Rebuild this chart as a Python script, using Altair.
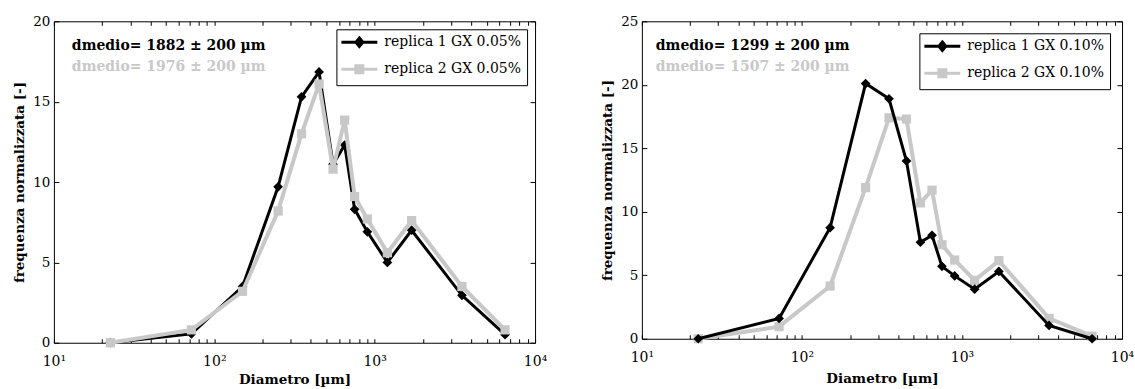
import altair as alt
import pandas as pd

# ---- data ----
diametro = [22.5, 72, 150, 250, 350, 450, 550, 650, 750, 900, 1200, 1700, 3500, 6500]

left_rep1 = [0.0, 0.55, 3.5, 9.7, 15.3, 16.85, 11.1, 12.3, 8.3, 6.9, 5.0, 7.0, 2.95, 0.5]
left_rep2 = [0.0, 0.8, 3.2, 8.2, 13.0, 16.1, 10.8, 13.85, 9.1, 7.7, 5.6, 7.6, 3.5, 0.8]
right_rep1 = [0.0, 1.6, 8.75, 20.1, 18.9, 14.0, 7.6, 8.15, 5.7, 4.95, 3.9, 5.3, 1.05, 0.0]
right_rep2 = [0.0, 0.95, 4.15, 11.9, 17.4, 17.3, 10.7, 11.7, 7.4, 6.2, 4.6, 6.15, 1.6, 0.2]

left_series = ["replica 1 GX 0.05%", "replica 2 GX 0.05%"]
right_series = ["replica 1 GX 0.10%", "replica 2 GX 0.10%"]
left_notes = ["dmedio= 1882 ± 200 µm", "dmedio= 1976 ± 200 µm"]
right_notes = ["dmedio= 1299 ± 200 µm", "dmedio= 1507 ± 200 µm"]

x_ticks = [10, 20, 30, 40, 50, 60, 70, 80, 90,
           100, 200, 300, 400, 500, 600, 700, 800, 900,
           1000, 2000, 3000, 4000, 5000, 6000, 7000, 8000, 9000, 10000]

FONT = "DejaVu Serif"
BLACK = "#000000"
GRAY = "#c8c8c8"

DIAMOND_LEG = "M-3.6,0H3.6M0,-0.85L0.7,0L0,0.85L-0.7,0Z"
SQUARE_LEG = "M-3.6,0H3.6M-0.7,-0.7H0.7V0.7H-0.7Z"

LABEL_EXPR = ("datum.value == 10 ? '10¹' : datum.value == 100 ? '10²' : "
              "datum.value == 1000 ? '10³' : datum.value == 10000 ? '10⁴' : ''")


def panel(r1, r2, series, notes, ymax, w, h, leg_offset, gray_on_top, note_x, xtitle_pad):
    n = len(diametro)
    df = pd.DataFrame({
        "Diametro": diametro + diametro,
        "freq": r1 + r2,
        "serie": [series[0]] * n + [series[1]] * n,
    })
    y_ticks = list(range(0, ymax + 1, 5))
    xscale = alt.Scale(type="log", domain=[10, 10000], nice=False)
    yscale = alt.Scale(domain=[0, ymax], nice=False)

    x_bottom = alt.X("Diametro:Q", scale=xscale, title="Diametro [µm]",
                     axis=alt.Axis(orient="bottom", values=x_ticks, labelExpr=LABEL_EXPR,
                                   tickSize={"expr": "-4"}, labelPadding=16, domain=False,
                                   grid=False, labelFlush=False, labelOverlap=False,
                                   labelFontSize=14, titlePadding=xtitle_pad))
    y_left = alt.Y("freq:Q", scale=yscale, title="frequenza normalizzata [-]",
                   axis=alt.Axis(orient="left", values=y_ticks, tickSize={"expr": "-5"},
                                 labelPadding=9, domain=False, grid=False,
                                 labelFlush=False, titlePadding=6))
    x_top = alt.X("Diametro:Q", scale=xscale, title=None,
                  axis=alt.Axis(orient="top", values=x_ticks, labels=False,
                                tickSize={"expr": "-4"}, domain=False, grid=False))
    y_right = alt.Y("freq:Q", scale=yscale, title=None,
                    axis=alt.Axis(orient="right", values=y_ticks, labels=False,
                                  tickSize={"expr": "-5"}, domain=False, grid=False))

    base = alt.Chart(df).encode(x=x_bottom, y=y_left)
    s1 = base.transform_filter(alt.datum.serie == series[0])
    s2 = base.transform_filter(alt.datum.serie == series[1])
    black_layers = [
        s1.mark_line(color=BLACK, strokeWidth=3),
        s1.mark_point(shape="diamond", filled=True, size=95, color=BLACK, opacity=1),
    ]
    gray_layers = [
        s2.mark_line(color=GRAY, strokeWidth=4),
        s2.mark_point(shape="square", filled=True, size=85, color=GRAY, opacity=1),
    ]
    data_layers = black_layers + gray_layers if gray_on_top else gray_layers + black_layers

    ndf = pd.DataFrame({"t": notes})
    note1 = alt.Chart(ndf.iloc[[0]]).mark_text(
        align="left", baseline="alphabetic", font=FONT, fontSize=14, fontWeight="bold",
        color=BLACK).encode(x=alt.value(note_x), y=alt.value(29), text="t:N")
    note2 = alt.Chart(ndf.iloc[[1]]).mark_text(
        align="left", baseline="alphabetic", font=FONT, fontSize=14, fontWeight="bold",
        color=GRAY).encode(x=alt.value(note_x), y=alt.value(50), text="t:N")

    inner = alt.layer(*data_layers, note1, note2)

    legend = alt.Legend(title=None, orient="top-right", offset=leg_offset,
                        strokeColor=BLACK, fillColor="white", padding=6,
                        labelFont=FONT, labelFontSize=14, labelColor=BLACK,
                        symbolSize=100, symbolStrokeWidth=3, symbolOpacity=1,
                        symbolOffset=10, labelOffset=18, rowPadding=6,
                        cornerRadius=0)
    cscale = alt.Scale(domain=series, range=[BLACK, GRAY])
    guide = alt.Chart(df).mark_point(filled=True, opacity=0).encode(
        x=x_top, y=y_right,
        color=alt.Color("serie:N", scale=cscale, legend=legend),
        stroke=alt.Stroke("serie:N", scale=cscale, legend=legend),
        shape=alt.Shape("serie:N", scale=alt.Scale(domain=series, range=[DIAMOND_LEG, SQUARE_LEG]),
                        legend=legend),
    )
    return alt.layer(inner, guide).resolve_axis(x="independent", y="independent").properties(
        width=w, height=h)


left = panel(left_rep1, left_rep2, left_series, left_notes, 20, 482, 322, 8, True, 18, 4)
right = panel(right_rep1, right_rep2, right_series, right_notes, 25, 481, 318, 12, False, 14, 7)

chart = alt.hconcat(left, right, spacing=52).resolve_scale(
    color="independent", stroke="independent", shape="independent"
).resolve_legend(
    color="independent", stroke="independent", shape="independent"
).properties(
    padding={"left": 12, "top": 13, "right": 0, "bottom": 0}
).configure_view(stroke=BLACK, strokeWidth=1).configure_axis(
    labelFont=FONT, labelFontSize=13.5, labelColor=BLACK,
    titleFont=FONT, titleFontSize=13.5, titleFontWeight="bold", titleColor=BLACK,
    tickColor=BLACK, tickWidth=1,
)

chart.save("out.html", embed_options={"renderer": "svg", "actions": False})
